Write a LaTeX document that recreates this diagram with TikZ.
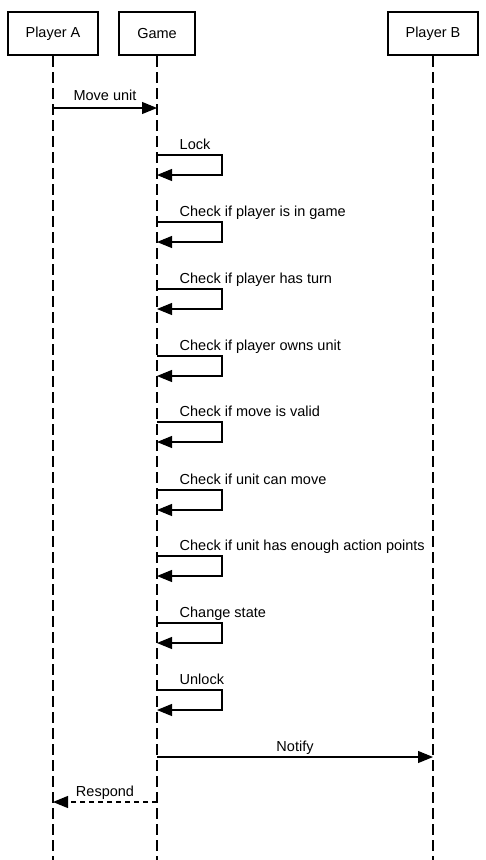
\documentclass[tikz,border=0pt]{standalone}
\usepackage{fontspec}
\setmainfont{Liberation Sans}
\usetikzlibrary{arrows.meta}
\begin{document}
\begin{tikzpicture}[x=1pt,y=-1pt,
  actor/.style={draw,line width=2pt,minimum height=43pt,inner sep=0pt,font=\fontsize{14.5}{16}\selectfont},
  lifeline/.style={line width=1.2pt,dash pattern=on 11pt off 5pt},
  msg/.style={line width=1.1pt,-{Triangle[length=15pt,width=12pt]}},
  reply/.style={msg,dash pattern=on 5pt off 4pt},
  lbl/.style={font=\fontsize{14.5}{16}\selectfont,inner sep=0pt}]
\useasboundingbox (0,0) rectangle (486,860);
\node[actor,minimum width=90pt] (pa) at (53,33.5) {Player A};
\node[actor,minimum width=76pt] (gm) at (157,33.5) {Game};
\node[actor,minimum width=90pt] (pb) at (433,33.5) {Player B};
\coordinate (paend) at (53,860);
\coordinate (gmend) at (157,860);
\coordinate (pbend) at (433,860);
\draw[lifeline] (pa.south) -- (paend);
\draw[lifeline] (gm.south) -- (gmend);
\draw[lifeline] (pb.south) -- (pbend);
% Move unit
\coordinate (m1a) at (53,108);
\coordinate (m1b) at (157,108);
\draw[msg] (m1a) -- (m1b) node[lbl,midway,anchor=base,yshift=8pt] (l0) {Move unit};
% self messages
\foreach \y/\t [count=\i] in {155/Lock,222/Check if player is in game,289/Check if player has turn,356/Check if player owns unit,422/Check if move is valid,490/Check if unit can move,556/Check if unit has enough action points,623/Change state,690/Unlock}{
  \coordinate (s\i a) at (157,\y);
  \coordinate (s\i c) at (222,\y);
  \coordinate (s\i b) at (157,\y+20);
  \draw[msg] (s\i a) -- (s\i c) |- (s\i b);
  \node[lbl,anchor=base west] (sl\i) at (179.5,\y-6) {\t};
}
% Notify
\coordinate (n1a) at (157,757);
\coordinate (n1b) at (433,757);
\draw[msg] (n1a) -- (n1b) node[lbl,midway,anchor=base,yshift=6pt] (ln) {Notify};
% Respond
\coordinate (r1a) at (157,802);
\coordinate (r1b) at (53,802);
\draw[reply] (r1a) -- (r1b) node[lbl,midway,anchor=base,yshift=6pt] (lr) {Respond};
\end{tikzpicture}
\end{document}
